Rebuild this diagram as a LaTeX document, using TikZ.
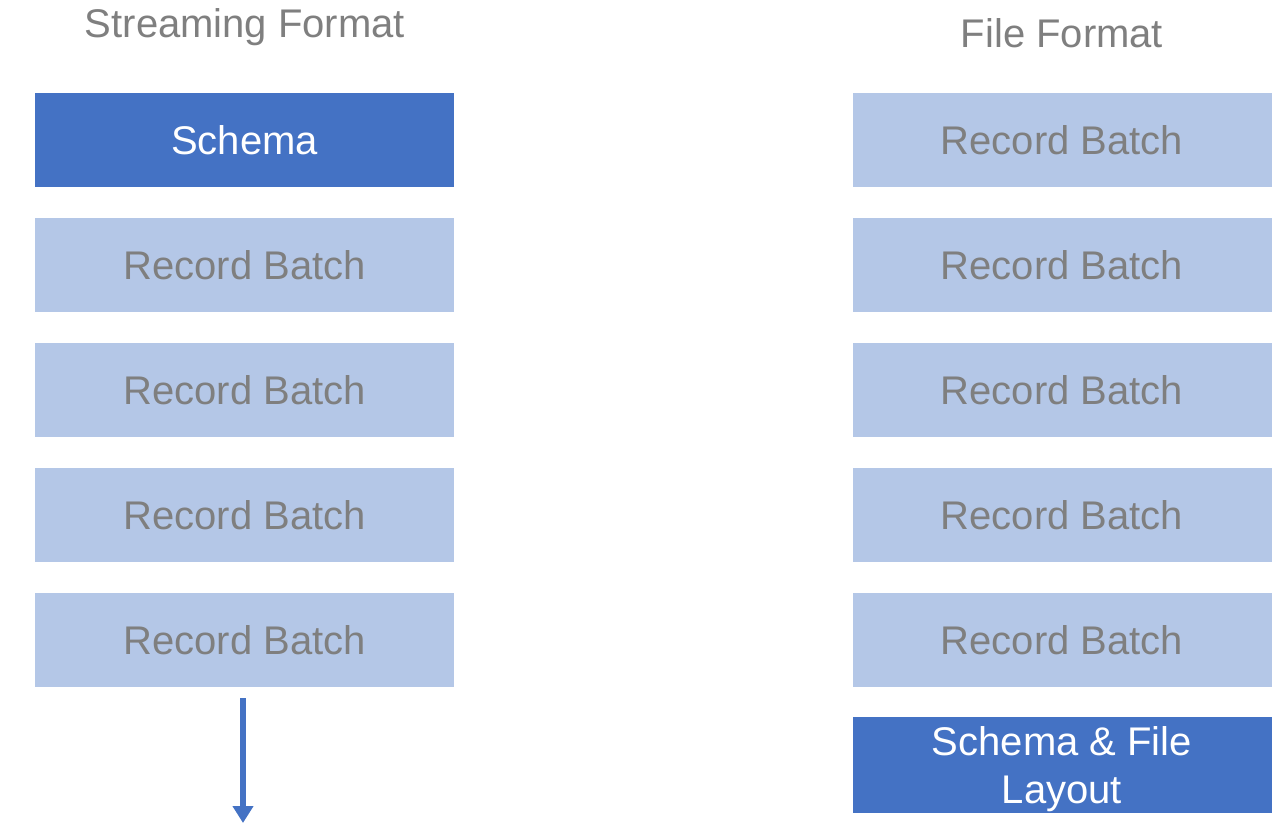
\documentclass[tikz,border=0pt]{standalone}
\usepackage{fontspec}
\setmainfont{Liberation Sans}
\usetikzlibrary{arrows.meta}
\definecolor{darkblue}{HTML}{4472C4}
\definecolor{lightblue}{HTML}{B4C7E7}
\definecolor{txtgray}{HTML}{7F7F7F}
\tikzset{
  box/.style={minimum width=419pt, minimum height=94pt, inner sep=0pt, outer sep=0pt, align=center,
    font=\fontsize{40}{48}\selectfont},
  dark/.style={box, fill=darkblue, text=white},
  light/.style={box, fill=lightblue, text=txtgray},
  title/.style={text=txtgray, font=\fontsize{40}{48}\selectfont, inner sep=0pt},
  flow/.style={draw=darkblue, line width=5.5pt, -{Triangle[width=20pt,length=17pt]}}
}
\begin{document}
\begin{tikzpicture}[x=1pt,y=-1pt]
\useasboundingbox (0,0) rectangle (1286,824);
\node[title] (t1) at (245,27) {Streaming Format};
\node[title] (t2) at (1062,33) {File Format};
\node[dark] (s0) at (244.5,140) {Schema};
\node[light] (s1) at (244.5,265) {Record Batch};
\node[light] (s2) at (244.5,390) {Record Batch};
\node[light] (s3) at (244.5,515) {Record Batch};
\node[light] (s4) at (244.5,640) {Record Batch};
\node[light] (f1) at (1062,140) {Record Batch};
\node[light] (f2) at (1062,265) {Record Batch};
\node[light] (f3) at (1062,390) {Record Batch};
\node[light] (f4) at (1062,515) {Record Batch};
\node[light] (f5) at (1062,640) {Record Batch};
\node[dark] (f6) at (1062,765) {\raisebox{-5pt}[\height][\depth]{\begin{tabular}{@{}c@{}}Schema \& File\\Layout\end{tabular}}};
\coordinate (a0) at (243,698);
\coordinate (a1) at (243,823);
\draw[flow] (a0) -- (a1);
\end{tikzpicture}
\end{document}
